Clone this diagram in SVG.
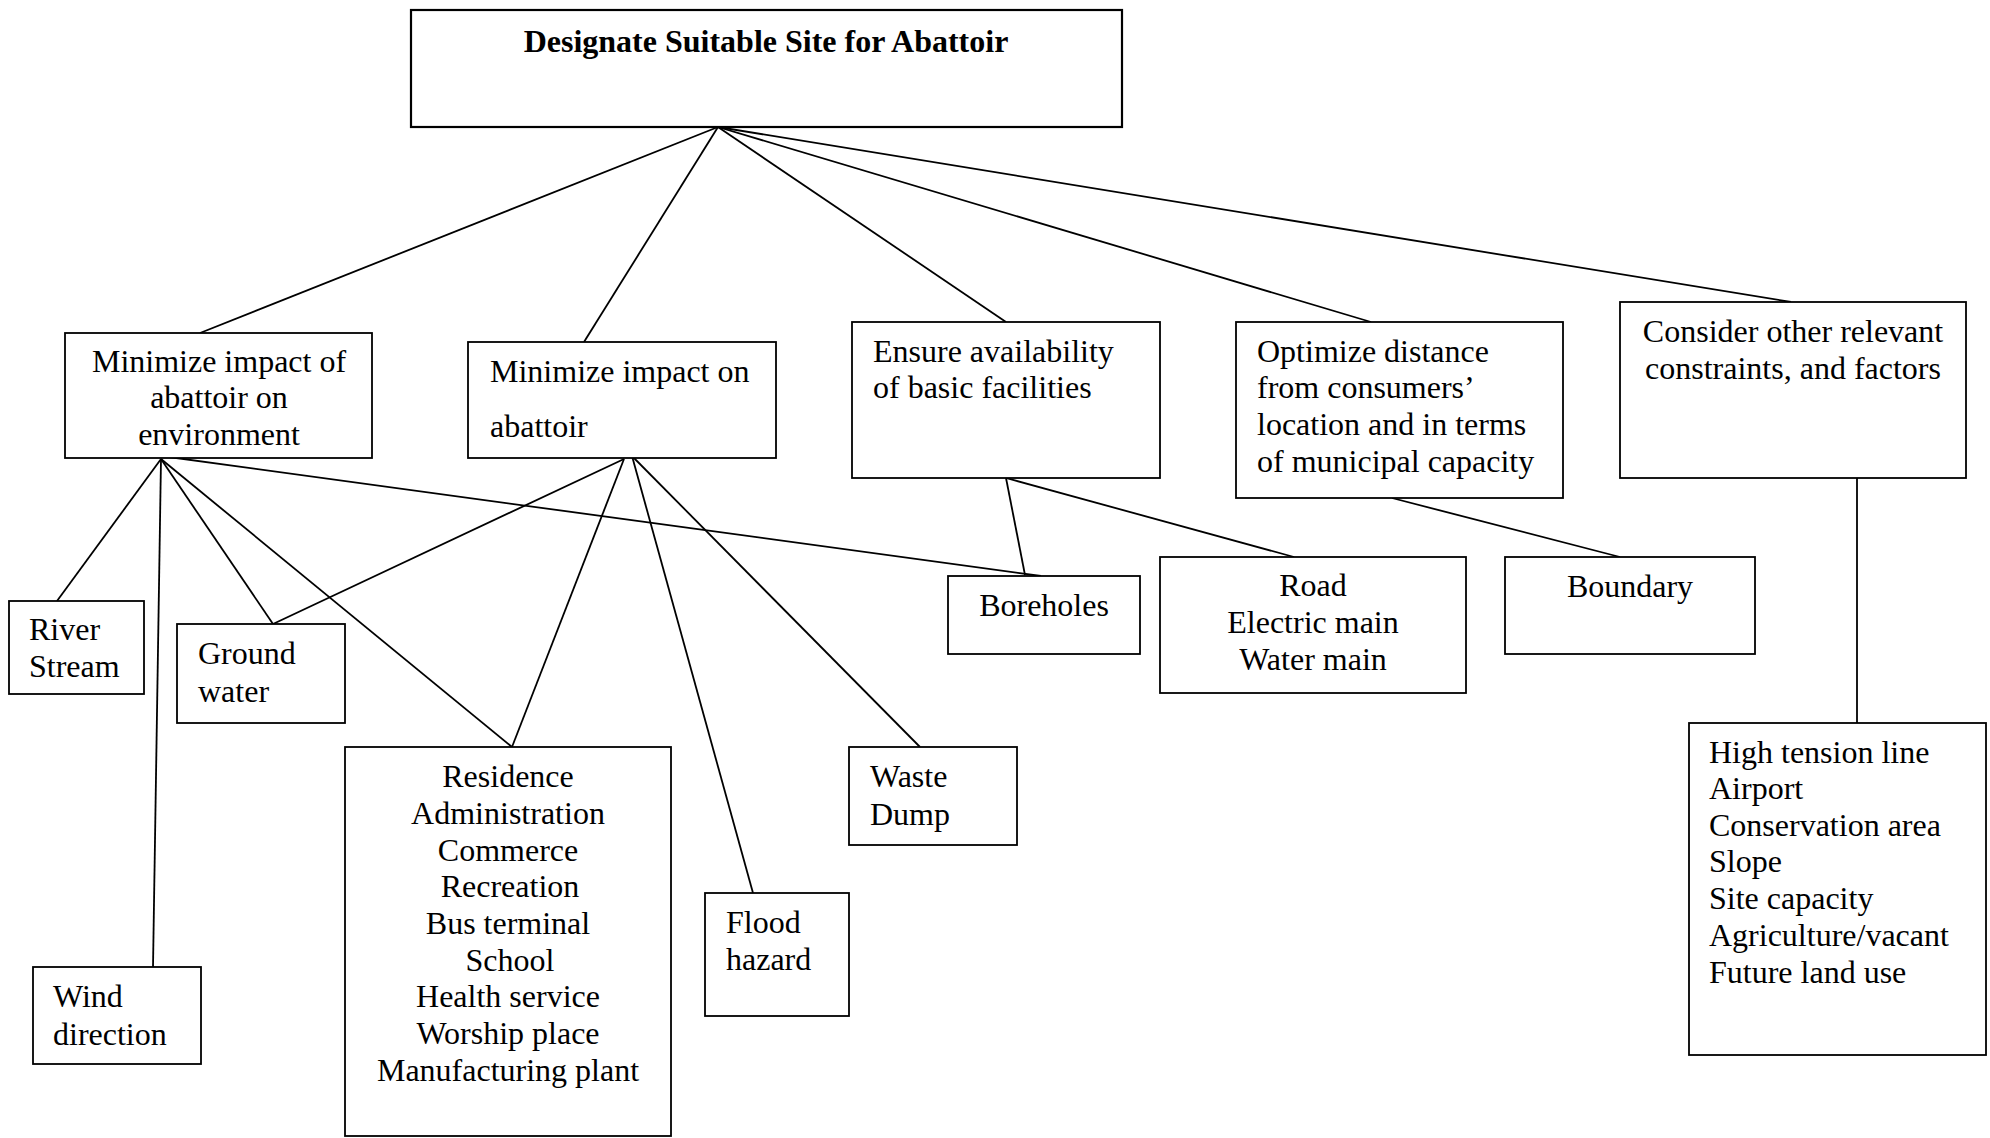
<svg xmlns="http://www.w3.org/2000/svg" width="1990" height="1138" viewBox="0 0 1990 1138">
<style>
.box{fill:#fff;stroke:#000;stroke-width:1.8}
.root{fill:#fff;stroke:#000;stroke-width:2.2}
.t{font-family:"Liberation Serif","Times New Roman",serif;font-size:32px;fill:#000}
.c{text-anchor:middle}
.b{font-weight:bold}
#connectors line{stroke:#000;stroke-width:1.8}
</style>
<rect width="1990" height="1138" fill="#fff"/>
<g id="connectors">
<line x1="718" y1="127" x2="200" y2="333"/>
<line x1="718" y1="127" x2="584" y2="342"/>
<line x1="718" y1="127" x2="1006" y2="322"/>
<line x1="718" y1="127" x2="1371" y2="322"/>
<line x1="718" y1="127" x2="1791" y2="302"/>
<line x1="161" y1="459" x2="57" y2="601"/>
<line x1="161" y1="459" x2="153" y2="967"/>
<line x1="161" y1="459" x2="273" y2="624"/>
<line x1="161" y1="459" x2="512" y2="747"/>
<line x1="154" y1="455" x2="1041" y2="576"/>
<line x1="624" y1="459" x2="273" y2="624"/>
<line x1="624" y1="459" x2="512" y2="747"/>
<line x1="632" y1="456" x2="753" y2="893"/>
<line x1="632" y1="456" x2="920" y2="747"/>
<line x1="1006" y1="478" x2="1025" y2="575"/>
<line x1="1006" y1="478" x2="1294" y2="557"/>
<line x1="1392" y1="498" x2="1620" y2="557"/>
<line x1="1857" y1="478" x2="1857" y2="723"/>
</g>
<g id="root">
<rect class="root" x="411" y="10" width="711" height="117"/>
<text class="t c b" x="766" y="52">Designate Suitable Site for Abattoir</text>
</g>
<g id="env">
<rect class="box" x="65" y="333" width="307" height="125"/>
<text class="t c" x="219" y="372">Minimize impact of</text>
<text class="t c" x="219" y="408">abattoir on</text>
<text class="t c" x="219" y="445">environment</text>
</g>
<g id="onabattoir">
<rect class="box" x="468" y="342" width="308" height="116"/>
<text class="t" x="490" y="382">Minimize impact on</text>
<text class="t" x="490" y="437">abattoir</text>
</g>
<g id="ensure">
<rect class="box" x="852" y="322" width="308" height="156"/>
<text class="t" x="873" y="362">Ensure availability</text>
<text class="t" x="873" y="398">of basic facilities</text>
</g>
<g id="optimize">
<rect class="box" x="1236" y="322" width="327" height="176"/>
<text class="t" x="1257" y="362">Optimize distance</text>
<text class="t" x="1257" y="398">from consumers’</text>
<text class="t" x="1257" y="435">location and in terms</text>
<text class="t" x="1257" y="472">of municipal capacity</text>
</g>
<g id="consider">
<rect class="box" x="1620" y="302" width="346" height="176"/>
<text class="t c" x="1793" y="342">Consider other relevant</text>
<text class="t c" x="1793" y="379">constraints, and factors</text>
</g>
<g id="river">
<rect class="box" x="9" y="601" width="135" height="93"/>
<text class="t" x="29" y="640">River</text>
<text class="t" x="29" y="677">Stream</text>
</g>
<g id="ground">
<rect class="box" x="177" y="624" width="168" height="99"/>
<text class="t" x="198" y="664">Ground</text>
<text class="t" x="198" y="702">water</text>
</g>
<g id="wind">
<rect class="box" x="33" y="967" width="168" height="97"/>
<text class="t" x="53" y="1007">Wind</text>
<text class="t" x="53" y="1045">direction</text>
</g>
<g id="residence">
<rect class="box" x="345" y="747" width="326" height="389"/>
<text class="t c" x="508" y="787">Residence</text>
<text class="t c" x="508" y="824">Administration</text>
<text class="t c" x="508" y="861">Commerce</text>
<text class="t c" x="510" y="897">Recreation</text>
<text class="t c" x="508" y="934">Bus terminal</text>
<text class="t c" x="510" y="971">School</text>
<text class="t c" x="508" y="1007">Health service</text>
<text class="t c" x="508" y="1044">Worship place</text>
<text class="t c" x="508" y="1081">Manufacturing plant</text>
</g>
<g id="flood">
<rect class="box" x="705" y="893" width="144" height="123"/>
<text class="t" x="726" y="933">Flood</text>
<text class="t" x="726" y="970">hazard</text>
</g>
<g id="waste">
<rect class="box" x="849" y="747" width="168" height="98"/>
<text class="t" x="870" y="787">Waste</text>
<text class="t" x="870" y="825">Dump</text>
</g>
<g id="boreholes">
<rect class="box" x="948" y="576" width="192" height="78"/>
<text class="t c" x="1044" y="616">Boreholes</text>
</g>
<g id="road">
<rect class="box" x="1160" y="557" width="306" height="136"/>
<text class="t c" x="1313" y="596">Road</text>
<text class="t c" x="1313" y="633">Electric main</text>
<text class="t c" x="1313" y="670">Water main</text>
</g>
<g id="boundary">
<rect class="box" x="1505" y="557" width="250" height="97"/>
<text class="t c" x="1630" y="597">Boundary</text>
</g>
<g id="other">
<rect class="box" x="1689" y="723" width="297" height="332"/>
<text class="t" x="1709" y="763">High tension line</text>
<text class="t" x="1709" y="799">Airport</text>
<text class="t" x="1709" y="836">Conservation area</text>
<text class="t" x="1709" y="872">Slope</text>
<text class="t" x="1709" y="909">Site capacity</text>
<text class="t" x="1709" y="946">Agriculture/vacant</text>
<text class="t" x="1709" y="983">Future land use</text>
</g>
</svg>
